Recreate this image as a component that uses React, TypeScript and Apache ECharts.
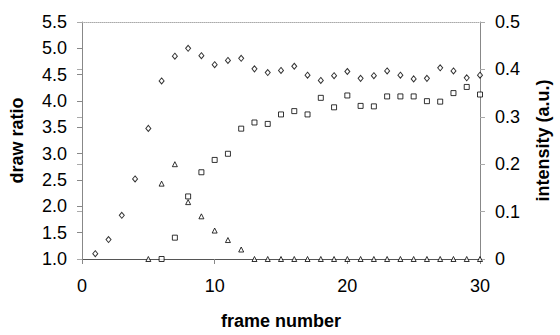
import React, { useEffect, useRef } from "react";
import * as echarts from "echarts";

const diamondFrames = [1,2,3,4,5,6,7,8,9,10,11,12,13,14,15,16,17,18,19,20,21,22,23,24,25,26,27,28,29,30];
const drawRatio = [1.10,1.37,1.83,2.52,3.48,4.38,4.85,5.00,4.86,4.69,4.77,4.81,4.61,4.54,4.58,4.66,4.49,4.39,4.48,4.56,4.43,4.48,4.57,4.49,4.42,4.43,4.63,4.57,4.44,4.49];

const squareFrames = [6,7,8,9,10,11,12,13,14,15,16,17,18,19,20,21,22,23,24,25,26,27,28,29,30];
const squareIntensity = [0,0.045,0.132,0.183,0.209,0.222,0.275,0.288,0.285,0.305,0.312,0.305,0.340,0.320,0.345,0.323,0.322,0.343,0.343,0.343,0.333,0.332,0.350,0.363,0.347];

const triangleFrames = [5,6,7,8,9,10,11,12,13,14,15,16,17,18,19,20,21,22,23,24,25,26,27,28,29,30];
const triangleIntensity = [0,0.159,0.200,0.120,0.090,0.060,0.040,0.020,0,0,0,0,0,0,0,0,0,0,0,0,0,0,0,0,0,0];

const FONT = "'Liberation Sans', Arial, Helvetica, sans-serif";

export default function App() {
  const ref = useRef<HTMLDivElement>(null);
  useEffect(() => {
    if (!ref.current) return;
    const chart = echarts.init(ref.current, null, { renderer: "svg" });
    const markerStyle = { color: "#fff", borderColor: "#000", borderWidth: 1 };
    chart.setOption({
      animation: false,
      textStyle: { fontFamily: FONT },
      grid: { left: 81, right: 72, top: 22, bottom: 70 },
      xAxis: [
        {
          type: "value",
          min: 0,
          max: 30,
          interval: 10,
          position: "bottom",
          name: "frame number",
          nameLocation: "middle",
          nameGap: 53,
          nameTextStyle: { fontSize: 18, fontWeight: "bold", color: "#000", fontFamily: FONT },
          axisLine: { show: true, onZero: false, lineStyle: { color: "#555", width: 1 } },
          axisTick: { show: true, inside: false, length: 5, lineStyle: { color: "#888" } },
          axisLabel: { fontSize: 18, color: "#000", margin: 18, fontFamily: FONT },
          splitLine: { show: false },
        },
        {
          type: "value",
          min: 0,
          max: 30,
          position: "top",
          axisLine: { show: true, onZero: false, lineStyle: { color: "#aaa", type: "dotted", width: 1 } },
          axisTick: { show: false },
          axisLabel: { show: false },
          splitLine: { show: false },
        },
      ],
      yAxis: [
        {
          type: "value",
          min: 1,
          max: 5.5,
          interval: 0.5,
          position: "left",
          name: "draw ratio",
          nameLocation: "middle",
          nameGap: 56,
          nameRotate: 90,
          nameTextStyle: { fontSize: 18, fontWeight: "bold", color: "#000", fontFamily: FONT },
          axisLine: { show: true, onZero: false, lineStyle: { color: "#888", width: 1 } },
          axisTick: { show: true, inside: false, length: 5, lineStyle: { color: "#888" } },
          axisLabel: { fontSize: 18, color: "#000", margin: 15, fontFamily: FONT, formatter: (v: number) => v.toFixed(1) },
          splitLine: { show: false },
        },
        {
          type: "value",
          min: 0,
          max: 0.5,
          interval: 0.1,
          position: "right",
          name: "intensity (a.u.)",
          nameLocation: "middle",
          nameGap: 54,
          nameRotate: 90,
          nameTextStyle: { fontSize: 18, fontWeight: "bold", color: "#000", fontFamily: FONT },
          axisLine: { show: true, onZero: false, lineStyle: { color: "#888", width: 1 } },
          axisTick: { show: true, inside: false, length: 5, lineStyle: { color: "#aaa" } },
          axisLabel: { fontSize: 18, color: "#000", margin: 15, fontFamily: FONT, formatter: (v: number) => (v === 0 ? "0" : v.toFixed(1)) },
          splitLine: { show: false },
        },
        {
          type: "value",
          min: 0,
          max: 0.5,
          interval: 0.1,
          position: "right",
          axisLine: { show: false },
          axisTick: { show: true, inside: true, length: 5, lineStyle: { color: "#aaa" } },
          axisLabel: { show: false },
          splitLine: { show: false },
        },
      ],
      series: [
        {
          type: "scatter",
          name: "draw ratio",
          xAxisIndex: 0,
          yAxisIndex: 0,
          symbol: "diamond",
          symbolSize: [5, 6],
          itemStyle: markerStyle,
          data: diamondFrames.map((f, i) => [f, drawRatio[i]]),
        },
        {
          type: "scatter",
          name: "square",
          xAxisIndex: 0,
          yAxisIndex: 1,
          symbol: "rect",
          symbolSize: 5,
          itemStyle: markerStyle,
          data: squareFrames.map((f, i) => [f, squareIntensity[i]]),
        },
        {
          type: "scatter",
          name: "triangle",
          xAxisIndex: 0,
          yAxisIndex: 1,
          symbol: "triangle",
          symbolSize: 5,
          itemStyle: markerStyle,
          data: triangleFrames.map((f, i) => [f, triangleIntensity[i]]),
        },
      ],
    });
    return () => chart.dispose();
  }, []);
  return (
    <div
      ref={ref}
      style={{ position: "fixed", left: 0, top: 0, width: 560, height: 335, background: "#fff" }}
    />
  );
}
